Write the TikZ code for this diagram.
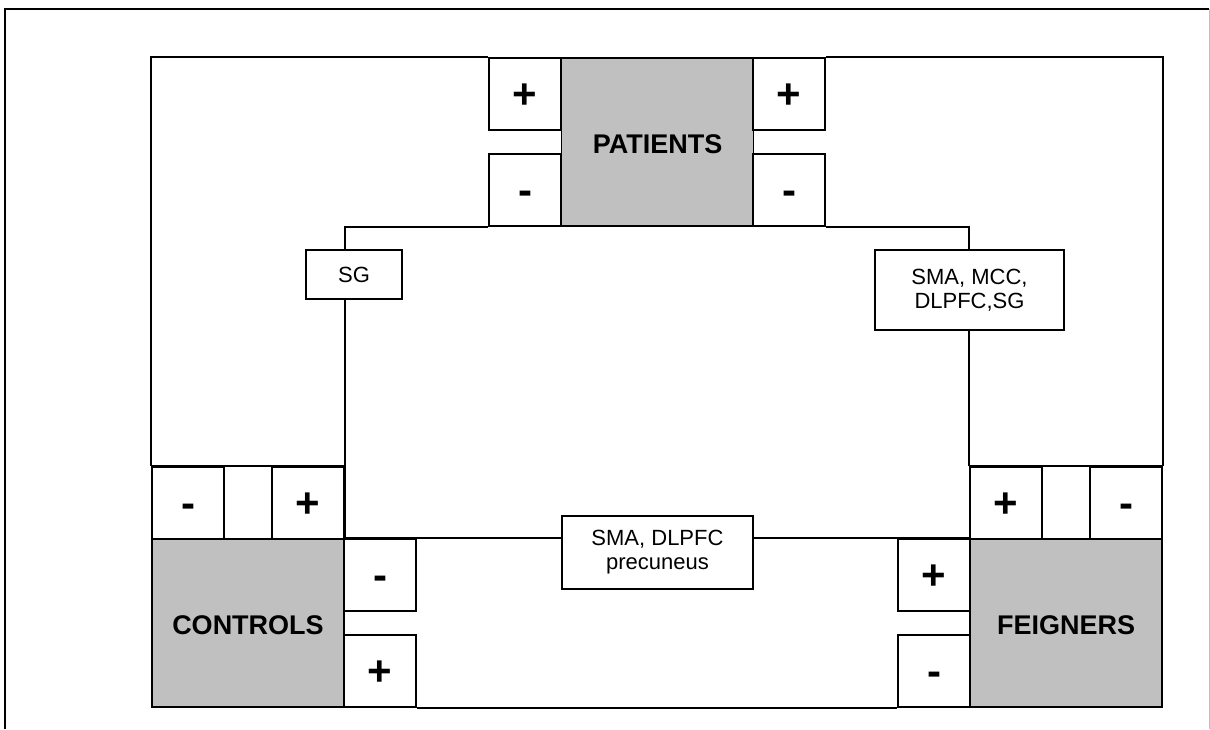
\documentclass[tikz,border=0pt]{standalone}
\usepackage{fontspec}
\setmainfont{Liberation Sans}
\usetikzlibrary{backgrounds}
\definecolor{grpfill}{RGB}{192,192,192}
\definecolor{framegray}{RGB}{190,190,190}
\begin{document}
\begin{tikzpicture}[x=1pt,y=-1pt,
  line join=miter,
  bx/.style={draw, line width=1.8pt, inner sep=0pt, fill=white, align=center},
  grpbox/.style={bx, fill=grpfill, minimum width=192pt, minimum height=168pt,
     font=\bfseries\fontsize{27}{30}\selectfont, text depth=0pt},
  signbox/.style={bx, minimum width=72pt, minimum height=72pt,
     text height=28pt, text depth=0pt,
     font=\bfseries\fontsize{42}{42}\selectfont},
  lblbox/.style={bx, font=\fontsize{22}{24}\selectfont},
  conn/.style={line width=1.8pt}]
\useasboundingbox (0,0) rectangle (1210,729);

% outer frame
\coordinate (fbl) at (5,729);
\coordinate (ftl) at (5,9);
\coordinate (ftr) at (1209,9);
\coordinate (fbr) at (1209,729);
\draw[line width=1.8pt] (fbl) -- (ftl) -- (ftr);
\draw[line width=1pt, framegray] (ftr) -- (fbr);

% groups
\node[grpbox] (pat) at (657.5,142) {\raisebox{-5pt}{PATIENTS}};
\node[grpbox] (ctrl) at (248,623) {\raisebox{-4pt}{CONTROLS}};
\node[grpbox] (feig) at (1066,623) {\raisebox{-4pt}{FEIGNERS}};

% patients signs
\node[signbox] (pTL) at (525,94) {+};
\node[signbox] (pBL) at (525,190) {-};
\node[signbox] (pTR) at (789,94) {+};
\node[signbox] (pBR) at (789,190) {-};

% controls signs
\node[signbox] (cT1) at (188,503) {-};
\node[signbox] (cT2) at (308,503) {+};
\node[signbox] (cR1) at (380,575) {-};
\node[signbox] (cR2) at (380,671) {+};

% feigners signs
\node[signbox] (fT1) at (1006,503) {+};
\node[signbox] (fT2) at (1126,503) {-};
\node[signbox] (fL1) at (934,575) {+};
\node[signbox] (fL2) at (934,671) {-};

% region labels
\node[lblbox, minimum width=96pt, minimum height=49pt] (sg) at (354,274.5) {SG};
\node[lblbox, minimum width=189pt, minimum height=80pt] (smamcc) at (969.5,290) {SMA, MCC,\\DLPFC,SG};
\node[lblbox, minimum width=191pt, minimum height=73pt] (smadl) at (657.5,552.5) {SMA, DLPFC\\precuneus};

\begin{pgfonlayer}{background}
  % big rectangle
  \draw[conn] (cT1.north west) |- (pTL.north west);
  \draw[conn] (pTR.north east) -| (fT2.north east);
  \draw[conn] (cR2.south east) -- (fL2.south west);
  % patients -> controls / feigners branches
  \draw[conn] (ctrl.north east) |- (pBL.south west);
  \draw[conn] (fT1.north west) |- (pBR.south east);
  % controls <-> feigners
  \draw[conn] (cR1.north west) -- (fL1.north east);
  % tops of sign pairs
  \draw[conn] (cT1.north west) -- (cT2.north east);
  \draw[conn] (fT1.north west) -- (fT2.north east);
\end{pgfonlayer}
\end{tikzpicture}
\end{document}
